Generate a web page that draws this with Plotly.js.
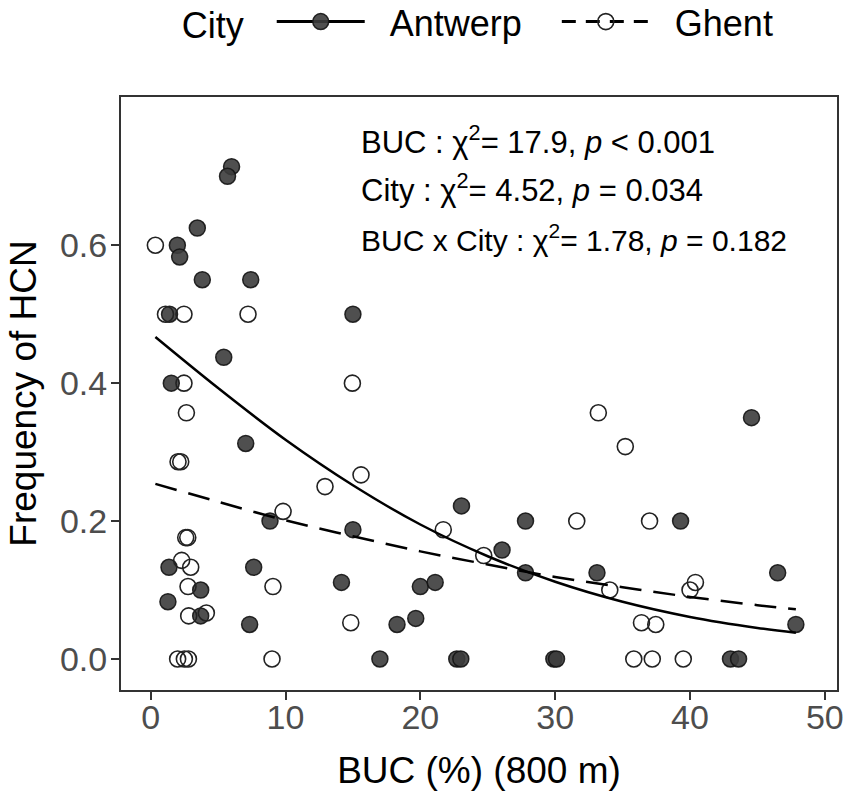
<!DOCTYPE html>
<html>
<head>
<meta charset="utf-8">
<script src="https://cdn.plot.ly/plotly-3.0.1.min.js"></script>
<style>
  html, body { margin: 0; padding: 0; background: #fff; }
  #chart { width: 851px; height: 793px; }
</style>
</head>
<body>
<div id="chart"></div>
<script>
const antwerpX = [6.0, 5.7, 3.46, 1.98, 2.15, 3.83, 7.42, 1.4, 15.0, 5.42, 1.53, 7.05,
  8.85, 15.0, 23.05, 26.06, 27.8, 27.8, 33.1, 39.3, 44.56, 46.5, 47.85, 20.0, 21.1,
  18.27, 19.66, 14.15, 1.36, 7.64, 3.71, 1.28, 3.71, 7.34,
  17.0, 22.7, 23.0, 29.9, 30.1, 43.0, 43.6];
const antwerpY = [0.714, 0.70, 0.625, 0.60, 0.583, 0.55, 0.55, 0.50, 0.50, 0.4375, 0.40, 0.3125,
  0.20, 0.1875, 0.222, 0.158, 0.20, 0.125, 0.125, 0.20, 0.35, 0.125, 0.05, 0.105, 0.111,
  0.05, 0.0588, 0.111, 0.133, 0.133, 0.10, 0.083, 0.0625, 0.05,
  0, 0, 0, 0, 0, 0, 0];

const ghentX = [0.35, 1.1, 2.47, 7.22, 2.47, 14.96, 2.65, 2.03, 2.23, 12.93, 15.6, 9.82,
  2.6, 2.75, 2.3, 2.97, 2.77, 9.07, 2.82, 4.13, 14.84, 21.7, 24.7, 31.6, 33.2, 35.2,
  37.0, 34.05, 40.4, 40.0, 36.4, 37.46,
  2.0, 2.5, 2.8, 9.0, 35.83, 37.2, 39.5];
const ghentY = [0.60, 0.50, 0.50, 0.50, 0.40, 0.40, 0.357, 0.286, 0.286, 0.25, 0.267, 0.214,
  0.176, 0.176, 0.143, 0.133, 0.105, 0.105, 0.0625, 0.0667, 0.0526, 0.1875, 0.15, 0.20, 0.357, 0.308,
  0.20, 0.10, 0.111, 0.10, 0.0526, 0.05,
  0, 0, 0, 0, 0, 0, 0];

// Fitted curves at a few BUC values
const fitX = [0.35, 5, 10, 15, 20, 25, 30, 35, 40, 45, 47.85];
const antwerpFit = [0.467, 0.393, 0.318, 0.252, 0.195, 0.149, 0.112, 0.083, 0.061, 0.045, 0.038];
const ghentFit = [0.254, 0.228, 0.201, 0.178, 0.156, 0.137, 0.119, 0.104, 0.090, 0.078, 0.072];

const xTicks = [0, 10, 20, 30, 40, 50];
const yTicks = [0, 0.2, 0.4, 0.6];

const statLines = [
  'BUC : \u03C7<sup>2</sup>= 17.9, <i>p</i> &lt; 0.001',
  'City : \u03C7<sup>2</sup>= 4.52, <i>p</i> = 0.034',
  'BUC x City : \u03C7<sup>2</sup>= 1.78, <i>p</i> = 0.182'
];
const statY = [0.752, 0.683, 0.611];
const statSize = [31, 31, 30];

const filledMarker = {size: 16, color: 'rgba(60,60,60,0.9)', line: {color: 'rgba(20,20,20,0.9)', width: 1.5}};
const openMarker = {size: 16, symbol: 'circle-open', color: '#222', line: {width: 1.6}};

const sp = '\u00A0\u00A0';
const traces = [
  {x: antwerpX, y: antwerpY, mode: 'markers', type: 'scatter', marker: filledMarker, showlegend: false},
  {x: ghentX, y: ghentY, mode: 'markers', type: 'scatter', marker: openMarker, showlegend: false},
  {x: fitX, y: antwerpFit, mode: 'lines', type: 'scatter', line: {color: '#000', width: 2.5, shape: 'spline'}, showlegend: false},
  {x: fitX, y: ghentFit, mode: 'lines', type: 'scatter', line: {color: '#000', width: 2.5, dash: '22px,12px', shape: 'spline'}, showlegend: false},
  // legend-only entries
  {x: [null], y: [null], mode: 'lines+markers', type: 'scatter', name: sp + 'Antwerp' + sp + '\u00A0',
   line: {color: '#000', width: 3}, marker: filledMarker},
  {x: [null], y: [null], mode: 'lines+markers', type: 'scatter', name: sp + 'Ghent',
   line: {color: '#000', width: 3, dash: '14px,10px'}, marker: openMarker}
];

const tickFont = {family: 'Liberation Sans, Arial', size: 34, color: '#4D4D4D'};
const axisBase = {
  showline: true, mirror: true, linecolor: '#333', linewidth: 2,
  showgrid: false, zeroline: false,
  ticks: 'outside', ticklen: 8, tickwidth: 2, tickcolor: '#333',
  tickfont: tickFont
};

const layout = {
  width: 851, height: 793,
  margin: {l: 121, r: 14, t: 97, b: 103, autoexpand: false},
  paper_bgcolor: '#fff', plot_bgcolor: '#fff',
  font: {family: 'Liberation Sans, Arial', color: '#000'},
  xaxis: Object.assign({}, axisBase, {
    range: [-2.2, 50.9], tickvals: xTicks, ticklabelstandoff: -12,
    title: {text: 'BUC (%) (800 m)', font: {size: 37}, standoff: 22}
  }),
  yaxis: Object.assign({}, axisBase, {
    range: [-0.045, 0.815], tickvals: yTicks, tickformat: '.1f', ticklabelstandoff: -3,
    title: {text: 'Frequency of HCN', font: {size: 37}, standoff: 12}
  }),
  legend: {
    orientation: 'h', x: 0.082, xanchor: 'left', y: 1.127, yanchor: 'middle',
    itemwidth: 88, font: {size: 36},
    title: {text: 'City  ', side: 'left', font: {size: 36}}
  },
  annotations: statLines.map((txt, i) => ({
    text: txt, xref: 'paper', yref: 'y', x: 0.332, y: statY[i],
    xanchor: 'left', yanchor: 'middle', showarrow: false,
    font: {size: statSize[i], family: 'Liberation Sans, Arial', color: '#000'}
  }))
};

Plotly.newPlot('chart', traces, layout, {displayModeBar: false});
</script>
</body>
</html>
